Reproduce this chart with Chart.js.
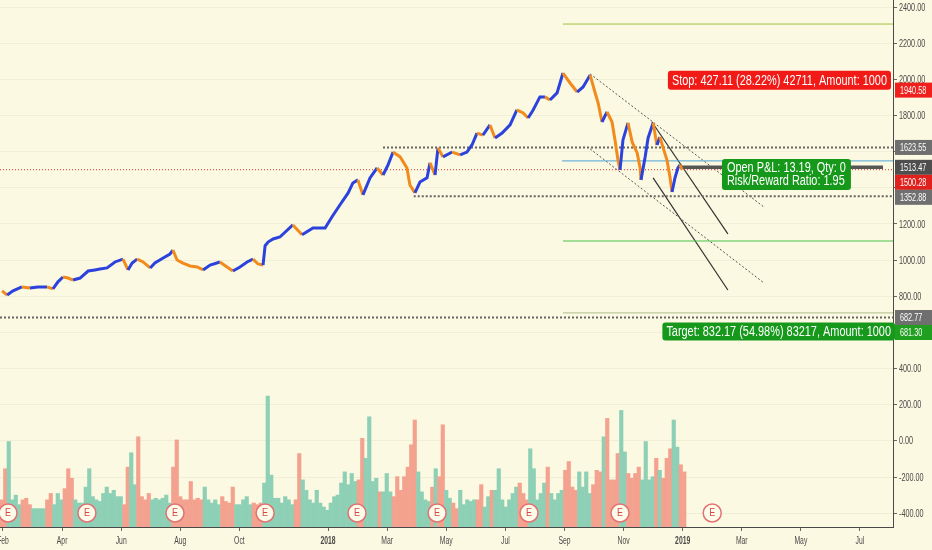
<!DOCTYPE html>
<html><head><meta charset="utf-8">
<script src="https://cdn.jsdelivr.net/npm/chart.js@4.4.1/dist/chart.umd.min.js"></script>
<style>html,body{margin:0;padding:0;background:#fcf9e2;}#wrap{width:932px;height:550px;position:relative;}</style>
</head><body><div id="wrap"><canvas id="c"></canvas></div>
<script>
// ---- data (x in months since Jan 2017: Feb 2017 = 1, Jan 2018 = 12, Jan 2019 = 24) ----
const priceX = [0.97,1.14,1.34,1.64,1.91,2.18,2.49,2.69,2.86,3.03,3.20,3.37,3.61,3.88,4.11,4.28,4.52,4.79,5.06,5.23,5.37,5.54,5.74,5.98,6.14,6.42,6.65,6.75,6.89,7.09,7.33,7.57,7.77,8.01,8.34,8.58,8.78,9.02,9.26,9.46,9.63,9.80,9.87,9.97,10.14,10.37,10.81,11.12,11.49,11.90,12.13,12.40,12.68,12.84,13.01,13.18,13.42,13.66,13.86,14.03,14.20,14.44,14.67,14.77,14.94,15.11,15.35,15.45,15.62,15.72,15.89,16.20,16.47,16.70,16.87,17.04,17.24,17.48,17.65,17.89,18.16,18.39,18.60,18.77,18.94,19.17,19.34,19.51,19.75,19.95,20.19,20.43,20.63,20.87,21.03,21.14,21.27,21.44,21.61,21.71,21.81,21.88,21.98,22.15,22.29,22.46,22.56,22.59,22.73,22.83,23.00,23.13,23.23,23.34,23.47,23.57,23.64,23.74,23.84,23.91,23.98];
const priceClose = [830,807,830,852,846,852,852,841,880,907,901,890,901,940,946,951,957,990,1006,946,984,1006,990,957,984,1012,1034,1056,1001,984,968,962,946,973,990,962,940,962,990,1006,979,973,1080,1100,1117,1128,1195,1140,1178,1178,1239,1305,1372,1427,1444,1361,1455,1510,1471,1527,1598,1571,1510,1416,1372,1432,1455,1538,1471,1621,1571,1598,1582,1598,1637,1703,1692,1748,1676,1703,1748,1831,1814,1786,1831,1903,1903,1886,1925,2035,1980,1930,1958,2024,1930,1869,1764,1820,1764,1665,1554,1499,1665,1759,1654,1593,1510,1444,1571,1676,1759,1637,1681,1621,1554,1460,1377,1455,1510,1527,1500];
// volume (millions of shares), one bar per half-week
const volume = [3.4,7.3,10.7,3.4,4.0,2.8,3.4,3.6,2.8,2.3,2.3,2.3,2.3,3.4,4.2,2.8,4.2,3.4,4.8,7.3,6.1,3.4,3.0,3.0,5.0,7.3,3.8,3.4,3.2,4.2,5.0,4.2,4.6,3.8,3.8,2.8,7.5,9.3,5.3,11.3,3.8,3.4,4.2,3.4,3.6,3.4,3.6,4.0,3.0,7.5,10.9,3.8,3.4,3.4,5.7,3.4,3.6,3.4,5.0,3.4,3.0,3.4,2.8,3.8,3.2,3.0,5.0,2.8,2.8,3.4,3.8,2.8,3.0,2.8,3.0,5.5,16.4,6.5,3.6,3.6,3.0,3.8,3.4,2.8,3.4,9.2,5.9,4.6,3.4,3.0,4.6,3.0,2.5,2.1,3.0,3.8,4.0,5.5,6.9,5.3,6.7,5.7,5.9,11.1,8.6,13.8,5.7,6.1,4.4,4.4,6.7,4.4,3.8,6.3,4.6,6.3,7.5,10.3,13.4,6.9,4.4,3.4,3.2,5.0,7.3,6.3,12.8,4.6,3.6,3.0,2.3,4.6,2.8,3.4,3.2,3.4,3.4,5.3,2.5,3.8,4.6,4.6,7.3,3.4,2.5,3.4,4.2,5.0,5.5,4.2,3.4,9.8,7.3,3.4,4.2,5.5,7.5,4.2,3.4,4.2,4.6,7.1,8.2,5.0,4.6,6.9,5.0,6.9,4.2,5.3,7.1,6.9,11.3,13.6,5.9,5.9,9.2,14.6,9.4,6.7,6.1,6.7,7.5,5.9,10.7,5.9,6.3,8.6,7.1,6.1,8.6,9.8,13.4,10.0,7.8,6.9];
const volStart = 0.958, volStep = 0.11844;
const tickMonths = [1,3,5,7,9,12,14,16,18,20,22,24,26,28,30];
const tickLabels = ['Feb','Apr','Jun','Aug','Oct','2018','Mar','May','Jul','Sep','Nov','2019','Mar','May','Jul'];
const priceTicks = [-400,-200,0,200,400,600,800,1000,1200,1400,1600,1800,2000,2200,2400];
const earningsX = [1.17,3.84,6.82,9.87,12.98,15.69,18.80,21.88,25.0];
const axisMarkValues = [1940.58,1623.55,1513.47,1500.28,1352.88,682.77,681.30];
const stopText = 'Stop: 427.11 (28.22%) 42711, Amount: 1000';
const pnlText = ['Open P&L: 13.19, Qty: 0','Risk/Reward Ratio: 1.95'];
const targetText = 'Target: 832.17 (54.98%) 83217, Amount: 1000';
// drawn levels / trend lines: [x0, y0, x1, y1]
const X_MIN = 0.8985, X_MAX = 31.118, Y_MIN = -476, Y_MAX = 2439;
const drawnLines = [
  [19.95,2306,X_MAX,2306],
  [19.95,1106,X_MAX,1106],
  [19.95,708,X_MAX,708],
  [19.92,1549,X_MAX,1549],
  [X_MIN,1500.28,X_MAX,1500.28],
  [13.86,1623.55,X_MAX,1623.55],
  [14.90,1352.88,X_MAX,1352.88],
  [X_MIN,682.77,X_MAX,682.77],
  [23.91,1513.47,30.78,1513.47],
  [20.87,2030,26.75,1294],
  [20.87,1615,26.75,874],
  [22.96,1764,25.53,1145],
  [23.00,1455,25.53,835]
];
// ---- styles ----
const lineStyles = [
  {c:'#a2c240',w:1,d:[]},{c:'#4cc24c',w:1,d:[]},{c:'#bcc79c',w:1.2,d:[]},{c:'#4aa3d8',w:1,d:[]},
  {c:'#e03030',w:1,d:[1,2]},{c:'#666',w:2,d:[2,2]},{c:'#666',w:2,d:[2,2]},{c:'#666',w:2,d:[2,2]},
  {c:'#555',w:3.5,d:[]},{c:'#555',w:1,d:[2,2]},{c:'#555',w:1,d:[2,2]},{c:'#333',w:1.2,d:[]},{c:'#333',w:1.2,d:[]}
];
const axisMarkColors = ['#f0201c','#6f6f6f','#4e4e4e','#e0201c','#6f6f6f','#6f6f6f','#1f9e1f'];
const FF = '"Liberation Sans", Arial, sans-serif';
const SX_BOX = 0.78, SX_Y = 0.66, SX_X = 0.68;
const BLUE = '#2c42dc', ORANGE = '#f28a1c', TEAL = '#8dd0b6', SALMON = '#f3a28f';

const priceData = priceX.map((x,i)=>({x:x,y:priceClose[i]}));
const volData = volume.map((v,i)=>({x:volStart+i*volStep,y:v}));
const volColors = volData.map(p=>{
  let j = priceX.findIndex(x=>x>=p.x); if (j<1) j=1;
  return priceClose[j]>=priceClose[j-1] ? TEAL : SALMON;
});

const datasets = [{
  type:'line', data:priceData, order:0, borderWidth:3, pointRadius:0, tension:0,
  borderColor:BLUE, segment:{borderColor:c=>c.p1.parsed.y>=c.p0.parsed.y?BLUE:ORANGE}, yAxisID:'y'
}];
drawnLines.forEach((l,i)=>{
  datasets.push({type:'line', data:[{x:l[0],y:l[1]},{x:l[2],y:l[3]}], order:2, borderColor:lineStyles[i].c,
    borderWidth:lineStyles[i].w, borderDash:lineStyles[i].d, pointRadius:0, yAxisID:'y'});
});
datasets.push({type:'bar', data:volData, order:5, backgroundColor:volColors, borderWidth:0,
  barPercentage:1, categoryPercentage:1, yAxisID:'yv'});

function rbox(ctx,x,y,w,h,r,fill){ctx.beginPath();if(ctx.roundRect)ctx.roundRect(x,y,w,h,r);else ctx.rect(x,y,w,h);ctx.fillStyle=fill;ctx.fill();}
function ntext(ctx,t,x,y,align,sx){ctx.save();ctx.translate(x,y);ctx.scale(sx,1);ctx.textAlign=align;ctx.fillText(t,0,0);ctx.restore();}
function nwidth(ctx,t,sx){return ctx.measureText(t).width*sx;}

const overlay = {
  id:'overlay',
  beforeDraw(chart){const c=chart.ctx;c.save();c.fillStyle='#fcf9e2';c.fillRect(0,0,chart.width,chart.height);c.restore();},
  afterDatasetsDraw(chart){
    const c=chart.ctx, xs=chart.scales.x, ys=chart.scales.y, a=chart.chartArea;
    c.save();
    earningsX.forEach(x=>{
      const px=xs.getPixelForValue(x), py=a.bottom-14;
      c.beginPath();c.arc(px,py,9,0,Math.PI*2);c.fillStyle='#fdfbea';c.fill();
      c.lineWidth=1.5;c.strokeStyle='#e27272';c.stroke();
      c.fillStyle='#d84545';c.font='10px '+FF;c.textBaseline='middle';ntext(c,'E',px,py+0.5,'center',0.9);
    });
    c.textBaseline='middle';c.font='14px '+FF;
    let w=nwidth(c,stopText,SX_BOX)+8, r=xs.getPixelForValue(31.05), cy=ys.getPixelForValue(1995);
    rbox(c,r-w,cy-9.5,w,19,3,'#f21a16');c.fillStyle='#fff';ntext(c,stopText,r-w+4,cy+0.5,'left',SX_BOX);
    w=Math.max(...pnlText.map(t=>nwidth(c,t,SX_BOX)))+10;
    let lx=xs.getPixelForValue(25.33), ty=ys.getPixelForValue(1560);
    rbox(c,lx,ty,w,31,3,'#16981a');c.fillStyle='#fff';
    ntext(c,pnlText[0],lx+5,ty+9,'left',SX_BOX);ntext(c,pnlText[1],lx+5,ty+22.5,'left',SX_BOX);
    w=nwidth(c,targetText,SX_BOX)+8; r=a.right+2; cy=ys.getPixelForValue(606);
    rbox(c,r-w,cy-9,w,18,3,'#16981a');c.fillStyle='#fff';ntext(c,targetText,r-w+4,cy+0.5,'left',SX_BOX);
    c.restore();
  },
  afterDraw(chart){
    const c=chart.ctx, xs=chart.scales.x, ys=chart.scales.y, a=chart.chartArea;
    c.save();c.textBaseline='middle';c.fillStyle='#4a4a4a';
    c.font='11px '+FF;
    ys.ticks.forEach(t=>ntext(c,t.value.toFixed(2),a.right+6,ys.getPixelForValue(t.value)+0.5,'left',SX_Y));
    xs.ticks.forEach((t,i)=>{
      const yr=/^\d{4}$/.test(tickLabels[i]);
      c.font=(yr?'bold ':'')+'10px '+FF;
      ntext(c,tickLabels[i],xs.getPixelForValue(t.value),a.bottom+14,'center',SX_X);
    });
    c.font='11px '+FF;
    const items=axisMarkValues.map((v,i)=>({v:v,y:ys.getPixelForValue(v),col:axisMarkColors[i]})).sort((p,q)=>p.y-q.y);
    let prev=-100;
    items.forEach(it=>{ if(it.y<prev+15) it.y=prev+15; prev=it.y;
      c.fillStyle=it.col;c.fillRect(a.right+2,it.y-7.5,chart.width-a.right-2,15);
      c.fillStyle='#fff';ntext(c,it.v.toFixed(2),a.right+7,it.y+0.5,'left',SX_Y);
    });
    c.restore();
  }
};

new Chart(document.getElementById('c'),{
  type:'bar',
  data:{datasets:datasets},
  plugins:[overlay],
  options:{
    responsive:true, maintainAspectRatio:false, animation:false,
    layout:{padding:0},
    plugins:{legend:{display:false},tooltip:{enabled:false}},
    scales:{
      x:{type:'linear',min:X_MIN,max:X_MAX,offset:false,
        afterBuildTicks:s=>{s.ticks=tickMonths.map(v=>({value:v}));},
        afterFit:s=>{s.height=23;},
        grid:{drawOnChartArea:false,tickLength:4,tickColor:'#666',offset:false},
        border:{color:'#4a4a4a',width:1},
        ticks:{display:false,autoSkip:false,callback:(v,i)=>tickLabels[i]}},
      y:{type:'linear',position:'right',min:Y_MIN,max:Y_MAX,
        afterBuildTicks:s=>{s.ticks=priceTicks.map(v=>({value:v}));},
        afterFit:s=>{s.width=39;},
        ticks:{display:false,callback:v=>Number(v).toFixed(2)},
        grid:{color:'rgba(0,0,0,0.045)',tickLength:4,tickColor:'#666'},
        border:{color:'#4a4a4a',width:1}},
      yv:{type:'linear',display:false,min:0,max:66}
    }
  }
});
</script></body></html>
